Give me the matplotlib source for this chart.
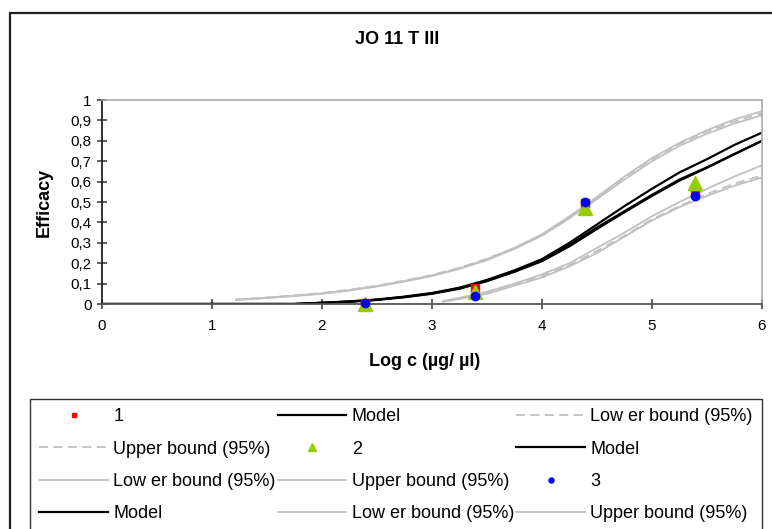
import matplotlib
matplotlib.use("Agg")
import matplotlib.pyplot as plt
from matplotlib.patches import Rectangle

plt.rcParams['font.family'] = ['Liberation Sans', 'DejaVu Sans']

# ---------------- data ----------------
title = "JO 11 T III"
xlabel = "Log c (µg/ µl)"
ylabel = "Efficacy"
xticks = [0, 1, 2, 3, 4, 5, 6]
yticks = [0, 0.1, 0.2, 0.3, 0.4, 0.5, 0.6, 0.7, 0.8, 0.9, 1.0]
ytick_labels = ["0", "0,1", "0,2", "0,3", "0,4", "0,5", "0,6", "0,7", "0,8", "0,9", "1"]

dose_x = [2.39, 3.39, 4.39, 5.39]
obs1 = [0.005, 0.078, 0.495, 0.55]
obs2 = [-0.002, 0.06, 0.47, 0.595]
obs3 = [0.006, 0.04, 0.50, 0.53]

model_x = [0, 0.5, 1.0, 1.5, 1.75, 2.0, 2.25, 2.5, 2.75, 3.0, 3.25, 3.5, 3.75,
           4.0, 4.25, 4.5, 4.75, 5.0, 5.25, 5.5, 5.75, 6.0]
model1 = [0, 0, 0, 0, 0.0, 0.006, 0.012, 0.021, 0.035, 0.052, 0.077, 0.115, 0.16,
          0.215, 0.29, 0.375, 0.455, 0.535, 0.61, 0.67, 0.735, 0.80]
model2 = [0, 0, 0, 0, 0.0, 0.006, 0.013, 0.022, 0.036, 0.054, 0.08, 0.118, 0.165,
          0.22, 0.30, 0.39, 0.48, 0.565, 0.645, 0.71, 0.78, 0.84]
model3 = [0, 0, 0, 0, 0.0, 0.005, 0.011, 0.02, 0.033, 0.05, 0.075, 0.112, 0.158,
          0.21, 0.283, 0.368, 0.45, 0.53, 0.605, 0.668, 0.735, 0.80]

upper_x = [1.22, 1.5, 1.75, 2.0, 2.25, 2.5, 2.75, 3.0, 3.25, 3.5, 3.75, 4.0,
           4.25, 4.5, 4.75, 5.0, 5.25, 5.5, 5.75, 6.0]
upper1 = [0.022, 0.032, 0.042, 0.054, 0.07, 0.09, 0.115, 0.142, 0.178, 0.222, 0.275, 0.34,
          0.425, 0.52, 0.62, 0.71, 0.785, 0.845, 0.895, 0.935]
upper2 = [0.02, 0.029, 0.039, 0.05, 0.066, 0.086, 0.11, 0.137, 0.172, 0.215, 0.27, 0.335,
          0.42, 0.515, 0.61, 0.70, 0.775, 0.835, 0.885, 0.925]
upper3 = [0.021, 0.031, 0.041, 0.052, 0.068, 0.088, 0.113, 0.14, 0.175, 0.22, 0.275, 0.342,
          0.43, 0.525, 0.625, 0.715, 0.79, 0.852, 0.905, 0.945]

lower_x = [3.1, 3.25, 3.5, 3.75, 4.0, 4.25, 4.5, 4.75, 5.0, 5.25, 5.5, 5.75, 6.0]
lower1 = [0.012, 0.027, 0.055, 0.095, 0.137, 0.19, 0.26, 0.335, 0.415, 0.48, 0.54, 0.59, 0.63]
lower2 = [0.015, 0.03, 0.06, 0.10, 0.145, 0.20, 0.275, 0.35, 0.43, 0.50, 0.565, 0.625, 0.68]
lower3 = [0.01, 0.025, 0.05, 0.09, 0.13, 0.185, 0.25, 0.33, 0.41, 0.475, 0.53, 0.58, 0.62]

lbl_model = "Model"
lbl_lower = "Low er bound (95%)"
lbl_upper = "Upper bound (95%)"

# ---------------- figure ----------------
W, H = 772, 529
fig = plt.figure(figsize=(W / 100, H / 100), dpi=100)
fig.patch.set_facecolor("white")

# outer chart frame
fig.patches.append(Rectangle((10 / W, -0.2), 2.0, 1.2 - 13 / H, transform=fig.transFigure,
                             fill=False, edgecolor="#222222", linewidth=1.6, zorder=0))

ax = fig.add_axes([102 / W, 1 - 304 / H, 660 / W, 204 / H])

gray = "#c0c0c0"
dash_style = (0, (5, 3))

h_ub1, = ax.plot(upper_x, upper1, color=gray, lw=1.3, linestyle=dash_style)
h_lb1, = ax.plot(lower_x, lower1, color=gray, lw=1.3, linestyle=dash_style)
h_ub2, = ax.plot(upper_x, upper2, color=gray, lw=1.3)
h_lb2, = ax.plot(lower_x, lower2, color=gray, lw=1.3)
h_ub3, = ax.plot(upper_x, upper3, color=gray, lw=1.3)
h_lb3, = ax.plot(lower_x, lower3, color=gray, lw=1.3)

h_m1, = ax.plot(model_x, model1, color="black", lw=1.6)
h_m2, = ax.plot(model_x, model2, color="black", lw=1.6)
h_m3, = ax.plot(model_x, model3, color="black", lw=1.6)

h_o1, = ax.plot(dose_x, obs1, linestyle="none", marker="s", color="#ff0000", ms=5.5,
                clip_on=False, zorder=5)
h_o2, = ax.plot(dose_x, obs2, linestyle="none", marker="^", color="#99cc00", ms=10,
                clip_on=False, zorder=6)
h_o3, = ax.plot(dose_x, obs3, linestyle="none", marker="o", color="#0000ff", ms=6,
                clip_on=False, zorder=7)

ax.set_xlim(0, 6)
ax.set_ylim(0, 1)
ax.set_xticks(xticks)
ax.set_xticklabels([str(t) for t in xticks])
ax.set_yticks(yticks)
ax.set_yticklabels(ytick_labels)

for side in ("top", "right"):
    ax.spines[side].set_color("#aaaaaa")
    ax.spines[side].set_linewidth(1.2)
ax.spines["left"].set_color("#222222")
ax.spines["bottom"].set_color("#555555")
ax.spines["left"].set_linewidth(1.3)
ax.spines["bottom"].set_linewidth(1.3)
ax.tick_params(axis="both", direction="inout", length=7, width=1.1, colors="#333333",
               labelsize=11, labelcolor="black")
ax.tick_params(axis="x", pad=7)
ax.tick_params(axis="y", pad=4)

fig.text(397 / W, 1 - 39 / H, title, ha="center", va="center", fontsize=13, fontweight="bold")
fig.text(425 / W, 1 - 362 / H, xlabel, ha="center", va="center", fontsize=13, fontweight="bold")
fig.text(44 / W, 1 - 202 / H, ylabel, ha="center", va="center", fontsize=13, fontweight="bold",
         rotation=90)

# legend (row-major order in reference -> column-major for matplotlib)
row_major = [(h_o1, "1"), (h_m1, lbl_model), (h_lb1, lbl_lower),
             (h_ub1, lbl_upper), (h_o2, "2"), (h_m2, lbl_model),
             (h_lb2, lbl_lower), (h_ub2, lbl_upper), (h_o3, "3"),
             (h_m3, lbl_model), (h_lb3, lbl_lower), (h_ub3, lbl_upper)]
ncol, nrow = 3, 4
col_major = [row_major[r * ncol + c] for c in range(ncol) for r in range(nrow)]
handles = [h for h, _ in col_major]
labels = [l for _, l in col_major]

leg = fig.legend(handles, labels, ncol=3, loc="upper left",
                 bbox_to_anchor=(30 / W, 1 - 399 / H, 732 / W, 0.0), mode="expand",
                 fontsize=13, frameon=True, fancybox=False, edgecolor="black",
                 handlelength=3.8, handletextpad=0.3, labelspacing=0.85,
                 borderpad=0.52, borderaxespad=0.0, columnspacing=0.6,
                 markerscale=0.6)
leg.get_frame().set_linewidth(1.0)

fig.savefig("out.png", dpi=100)
